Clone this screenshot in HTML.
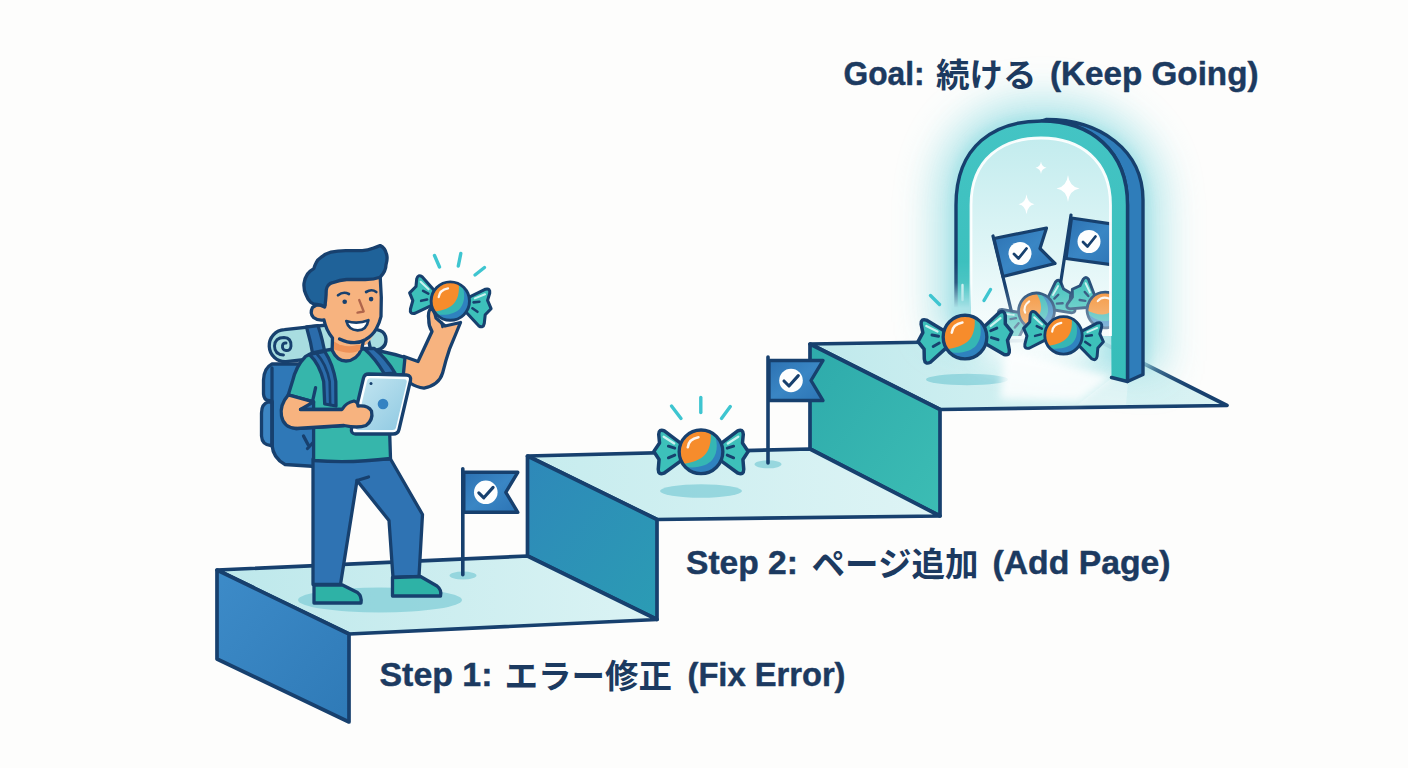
<!DOCTYPE html>
<html lang="ja"><head><meta charset="utf-8"><title>Steps to Goal</title>
<style>
html,body{margin:0;padding:0;background:#fdfdfc;}
body{width:1408px;height:768px;overflow:hidden;font-family:"Liberation Sans",sans-serif;}
svg{display:block;}
</style></head><body>
<svg width="1408" height="768" viewBox="0 0 1408 768">
<rect width="1408" height="768" fill="#fdfdfc"/>

<defs>
  <linearGradient id="gFace1" x1="0" y1="0" x2="1" y2="1"><stop offset="0" stop-color="#3d8bc8"/><stop offset="1" stop-color="#2f7ab7"/></linearGradient>
  <linearGradient id="gFace2" x1="0" y1="0" x2="1" y2="1"><stop offset="0" stop-color="#2e88b9"/><stop offset="1" stop-color="#2b9cb4"/></linearGradient>
  <linearGradient id="gFace3" x1="0" y1="0" x2="1" y2="1"><stop offset="0" stop-color="#2eaaab"/><stop offset="1" stop-color="#3cbdb4"/></linearGradient>
  <linearGradient id="gTop1" x1="0" y1="0" x2="1" y2="0"><stop offset="0" stop-color="#bde8eb"/><stop offset="1" stop-color="#dbf3f4"/></linearGradient>
  <linearGradient id="gTop2" x1="0" y1="0" x2="1" y2="0"><stop offset="0" stop-color="#c6ecee"/><stop offset="1" stop-color="#def4f5"/></linearGradient>
  <linearGradient id="gTop3" x1="0" y1="0" x2="1" y2="0"><stop offset="0" stop-color="#bfe9ec"/><stop offset="0.6" stop-color="#d4f1f2"/><stop offset="1" stop-color="#d9f2f3"/></linearGradient>
  <linearGradient id="gFlag" x1="0" y1="0" x2="1" y2="1"><stop offset="0" stop-color="#2c71b2"/><stop offset="0.5" stop-color="#3a86c4"/><stop offset="1" stop-color="#2c74b5"/></linearGradient>
  <linearGradient id="gArchIn" x1="0" y1="0" x2="0" y2="1"><stop offset="0" stop-color="#c3ecee"/><stop offset="0.55" stop-color="#def5f6"/><stop offset="1" stop-color="#f8fdfd"/></linearGradient>
  <linearGradient id="gArchFront" x1="0" y1="0" x2="0" y2="1"><stop offset="0" stop-color="#44c4c4"/><stop offset="1" stop-color="#36bdb9"/></linearGradient>
  <linearGradient id="gTablet" x1="0" y1="0" x2="1" y2="1"><stop offset="0" stop-color="#c4e6f1"/><stop offset="1" stop-color="#8fc9e2"/></linearGradient>
  <radialGradient id="gGlow" cx="0.5" cy="0.5" r="0.5"><stop offset="0" stop-color="#aee5e8" stop-opacity="0.95"/><stop offset="0.6" stop-color="#bdeaec" stop-opacity="0.75"/><stop offset="1" stop-color="#d8f3f4" stop-opacity="0"/></radialGradient>
  <linearGradient id="gLeftCol" x1="0" y1="0" x2="0" y2="1"><stop offset="0" stop-color="#000" stop-opacity="0"/><stop offset="0.45" stop-color="#000" stop-opacity="0.15"/><stop offset="1" stop-color="#000" stop-opacity="1"/></linearGradient>
  <mask id="mLeftFade" maskUnits="userSpaceOnUse" x="900" y="100" width="300" height="300"><rect x="900" y="100" width="300" height="300" fill="#fff"/><rect x="940" y="262" width="60" height="46" fill="url(#gLeftCol)"/><rect x="940" y="307.500" width="60" height="100" fill="#000"/></mask>
  <filter id="blur12" x="-30%" y="-30%" width="160%" height="160%"><feGaussianBlur stdDeviation="14"/></filter>
  <filter id="blur20" x="-40%" y="-40%" width="180%" height="180%"><feGaussianBlur stdDeviation="20"/></filter>
  <filter id="blur4" x="-30%" y="-30%" width="160%" height="160%"><feGaussianBlur stdDeviation="4"/></filter>
  <filter id="blur1" x="-30%" y="-30%" width="160%" height="160%"><feGaussianBlur stdDeviation="0.7"/></filter>
  <clipPath id="cBall"><circle cx="0" cy="0" r="19.5"/></clipPath>
  <clipPath id="cArchIn"><path d="M971 336 L971 205 C971 158 1003 138 1041 138 C1080 138 1110.500 160 1110.500 205 L1110.500 336 Z"/></clipPath>
  <linearGradient id="gHaze" x1="0" y1="0" x2="0" y2="1"><stop offset="0" stop-color="#f4fbfb" stop-opacity="0"/><stop offset="1" stop-color="#f4fbfb" stop-opacity="0.55"/></linearGradient>

  <g id="wrapR">
    <path d="M17 -7 L31.500 -18 Q36 -20 36.300 -15 L35.600 -7.600 L40.500 -0.300 L36 6.600 L36.700 15 Q36.700 20.200 31.800 18.400 L17 7.500 Z" fill="#3dc0ba" stroke="#17406e" stroke-width="3" stroke-linejoin="round"/>
    <path d="M23 -7.2 L32 -13" stroke="#c9f2f0" stroke-width="2" stroke-linecap="round" fill="none"/>
    <path d="M22.500 -3.100 L28 -4.800 M22.500 2.800 L28 5.200" stroke="#17406e" stroke-width="2.500" stroke-linecap="round" fill="none"/>
  </g>
  <g id="wraps"><use href="#wrapR" transform="scale(1.04)"/><use href="#wrapR" transform="scale(-1.04,1.04)"/></g>
  <g id="ball">
    <g clip-path="url(#cBall)">
      <circle r="20" fill="#f68c2c"/>
      <path d="M8.400 -20 C9.500 -10 8.500 0 0.200 5.500 C-5 9 -12 10.500 -19 11 L-19 22 L22 22 L22 -22 Z" fill="#35b6b4"/>
      <path d="M11.700 -17 C15.200 -8 15 1 10.100 7.200 C6 12.300 -3 15.200 -15 13.400 L-15 22 L22 22 L22 -22 Z" fill="#2f82bf"/>
    </g>
    <circle r="19.500" fill="none" stroke="#17406e" stroke-width="3"/>
    <path d="M-11.800 -4 Q-11 -11.500 -2.300 -13" stroke="#fff" stroke-width="2.300" stroke-linecap="round" fill="none" opacity="0.92"/>
  </g>
  <g id="candy"><use href="#wraps"/><use href="#ball"/></g>

  <g id="flag">
    <path d="M0 -3 L0 103" stroke="#17406e" stroke-width="3.6" stroke-linecap="round"/>
    <path d="M1 0.5 L55 0.5 L43 20.5 L55 40.5 L1 40.5 Z" fill="url(#gFlag)" stroke="#17406e" stroke-width="3.4" stroke-linejoin="round"/>
    <circle cx="23" cy="20.500" r="11.800" fill="#fdfefe"/>
    <path d="M16 21 L21 26 L30.3 15.6" stroke="#17406e" stroke-width="3.1" fill="none" stroke-linecap="round" stroke-linejoin="round"/>
  </g>
  <path id="star" d="M0 -10 Q1.2 -1.2 10 0 Q1.2 1.2 0 10 Q-1.2 1.2 -10 0 Q-1.2 -1.2 0 -10 Z"/>
</defs>


<g stroke="#17406e" stroke-width="3.7" stroke-linejoin="round" stroke-linecap="round">
  <path d="M810 344 L1096 339.5 L1227 405.5 L940 409.5 Z" fill="url(#gTop3)"/>
  <path d="M810 344 L940 409.5 L940 516 L810 449 Z" fill="url(#gFace3)"/>
  <path d="M527.5 456 L810 449 L940 516 L657 519.5 Z" fill="url(#gTop2)"/>
  <path d="M527.5 456 L657 519.5 L657 619.5 L527.5 556 Z" fill="url(#gFace2)"/>
  <path d="M217 570 L527.5 556 L657 619.5 L349 634 Z" fill="url(#gTop1)"/>
  <path d="M217 570 L349 634 L349 722 L217 659 Z" fill="url(#gFace1)"/>
</g>


<g fill="#86d0d9" opacity="0.78">
  <ellipse cx="380" cy="600" rx="82" ry="12.5"/>
  <ellipse cx="463" cy="575.5" rx="13.5" ry="4"/>
  <ellipse cx="701" cy="491" rx="41" ry="6.8"/>
  <ellipse cx="768" cy="464.3" rx="13.5" ry="4"/>
  <ellipse cx="967" cy="379.5" rx="41" ry="5.8"/>
</g>


<!-- glow -->
<path d="M936 335 L936 205 C936 130 985 100 1042 100 C1105 100 1162 135 1162 205 L1162 375 Z" fill="#a2e1e6" opacity="0.9" filter="url(#blur20)"/>
<path d="M950 320 L950 205 C950 140 990 115 1042 115 C1100 115 1150 145 1150 205 L1150 370 Z" fill="#a2e1e6" opacity="0.6" filter="url(#blur4)"/>
<ellipse cx="1040" cy="345" rx="62" ry="26" fill="#ffffff" opacity="0.9" filter="url(#blur12)"/>
<!-- floor light spill -->
<path d="M1005 348 L1112 377 L1079 401 L1000 399 Z" fill="#ffffff" opacity="0.85" filter="url(#blur4)"/>
<path d="M1112 378 L1128 382 L1126 404.500 L1078 404.500 Z" fill="#ffffff" opacity="0.3" filter="url(#blur1)"/>
<!-- interior -->
<path d="M971 336 L971 205 C971 158 1003 138 1041 138 C1080 138 1110.500 160 1110.500 205 L1110.500 336 L1110.500 336 L971 336 Z" fill="url(#gArchIn)"/>
<g clip-path="url(#cArchIn)">
  <g fill="#ffffff">
    <use href="#star" transform="translate(1041 167.700) scale(0.55 0.62)"/>
    <use href="#star" transform="translate(1068 188.500) scale(1.15 1.35)"/>
    <use href="#star" transform="translate(1026.500 204.200) scale(0.8 1)"/>
  </g>
  <!-- inner flags -->
  <g>
    <path d="M993 236 L1012 314" stroke="#17406e" stroke-width="3.200" stroke-linecap="round"/>
    <path d="M994 238.500 L1046.500 228 L1040 248.500 L1055 263.500 L1003 276.500 Z" fill="url(#gFlag)" stroke="#17406e" stroke-width="3.200" stroke-linejoin="round"/>
    <circle cx="1020" cy="253.500" r="11.500" fill="#fdfefe"/>
    <path d="M1014 254 L1018.500 258.500 L1026.500 248.500" stroke="#17406e" stroke-width="2.800" fill="none" stroke-linecap="round" stroke-linejoin="round"/>
    <path d="M1071 215 L1060 287" stroke="#17406e" stroke-width="3.200" stroke-linecap="round"/>
    <path d="M1071.500 218 L1118 225 L1118 265.500 L1066 258.500 Z" fill="url(#gFlag)" stroke="#17406e" stroke-width="3.200" stroke-linejoin="round"/>
    <circle cx="1089" cy="241.500" r="11.500" fill="#fdfefe"/>
    <path d="M1083 242 L1087.500 246.500 L1095.500 236.500" stroke="#17406e" stroke-width="2.800" fill="none" stroke-linecap="round" stroke-linejoin="round"/>
  </g>
  <!-- back candies -->
  <g opacity="0.92">
    <use href="#candy" transform="translate(1036.500 311) rotate(-27) scale(0.92)"/>
    <use href="#candy" transform="translate(1105 310) rotate(32) scale(0.92)"/>
  </g>
  <rect x="969" y="285" width="143" height="60" fill="url(#gHaze)"/>
</g>
<!-- arch side (blue) -->
<path d="M1127.500 381.500 L1127.500 205 C1127.500 150 1090 121 1041.500 121 L1046 119.500 C1100 119.500 1143 150 1143 200 L1143 374.500 Z" fill="#2f7dba" stroke="#17406e" stroke-width="3.400" stroke-linejoin="round"/>
<!-- arch front (teal) -->
<g mask="url(#mLeftFade)">
  <path d="M956 330 L956 205 C956 145 995 121 1041.500 121 C1090 121 1127.500 150 1127.500 205 L1127.500 381.500 L1111.500 377.500 L1110.500 205 C1110.500 160 1080 138 1041 138 C1003 138 971 158 971 205 L971 330 Z" fill="url(#gArchFront)"/>
  <path d="M971 336 L971 205 C971 158 1003 138 1041 138 C1080 138 1110.500 160 1110.500 205 L1110.500 336" fill="none" stroke="#ffffff" stroke-width="2.800" opacity="0.95"/>
  <path d="M956 330 L956 205 C956 145 995 121 1041.500 121 C1090 121 1127.500 150 1127.500 205 L1127.500 381.500 L1111.500 377.500" fill="none" stroke="#17406e" stroke-width="3.400" stroke-linejoin="round" stroke-linecap="round"/>
  <path d="M962.500 300 L962.500 285" stroke="#fff" stroke-width="2.400" stroke-linecap="round" opacity="0.8"/>
</g>


<g stroke="#17406e" stroke-width="3.300" stroke-linejoin="round" stroke-linecap="round">
  <!-- roll right end (behind neck) -->
  <path d="M366 330 Q385 327 386 339 Q386.500 350 371 351 Z" fill="#a8dde0"/>
  <!-- backpack body -->
  <path d="M272 364 Q264 368 263.500 380 L263.500 394 Q264 399.500 268 400.500 L272 401 L272 445 Q273 458 285 464.500 L316 466.500 L318 364 Z" fill="#2f78b7"/>
  <path d="M272 402 L268 402 Q261.500 404 261.500 413 L261.500 436 Q262 445 271 445.500 L272 445.500 Z" fill="#3c86c4"/>
  <path d="M272 368 L272 446" fill="none"/>
  <path d="M307.500 448.500 L321 434 M303.500 436 L308 444.500" fill="none"/>
  <!-- roll -->
  <path d="M284.500 329.700 A16 16 0 0 0 286 361.700 L336 356 L336 324 Z" fill="#a8dde0"/>
  <path d="M306.500 327 Q311 342 313.500 358.500 L325.500 357 Q323 340 318 325.700 Z" fill="#2b6cab"/>
  <path d="M283.500 355 Q274.500 354.500 274.500 346 Q275 337.500 284 337.500 Q291.500 338 291 346 Q290.500 351 286 350.500 Q282 350 282.500 345.500 Q283 342.500 286 343" fill="none" stroke-width="2.900"/>
  <!-- raised arm -->
  <path d="M404 356.500 L418 361.500 L432 331.500 Q428.500 326 428.800 320 Q427.500 311 431 308.500 Q435 311 436 318 L445 326 L460.500 322.500 Q455 336 449.800 348.300 Q445.500 361 442.500 373.300 Q439 385 424 388.200 Q416 387 411 383.500 L402 375 Z" fill="#f7b37f"/>
  <path d="M441.500 322.500 L442.500 327" fill="none" stroke-width="2.600"/>
  <!-- pants -->
  <path d="M313 459 L313 584.500 L340.500 584.500 L357 480.500 L389 520.500 L393 577.500 L419 576.500 L422.500 514.500 L390.500 459 Z" fill="#2f73b3"/>
  <path d="M357 480.500 L368.500 477" fill="none"/>
  <!-- shoes -->
  <path d="M314 585 L342.500 585 L357.500 592.500 Q362 596 361 603 L314 603 Z" fill="#2eb2a6"/>
  <path d="M392.500 577.500 L420.500 576.500 L437 586 Q442 590 440.500 596 L392.500 596 Z" fill="#2eb2a6"/>
  <!-- shirt -->
  <path d="M330.700 349.500 Q312 352 305.500 356.500 Q296 366 292.400 381.600 L288.300 394.800 L313.600 401.800 L313.600 460.500 Q350 463.500 390.500 458.500 L388 380 L403.400 374 L405 357.500 Q385 351 362 348.500 Z" fill="#36b6ab"/>
  <path d="M315.600 387.700 L312.500 401.500" fill="none"/>
  <!-- neck -->
  <path d="M332.500 334 L332 350 Q337 361 346 361 Q357 360.500 361.500 349 L363 336 Z" fill="#f7b37f" stroke="none"/>
  <path d="M332 350 Q337 361 346 361 Q357 360.500 361.500 349" fill="none"/>
  <path d="M334 341.500 Q348 350.500 362.500 342.500 L362 349 Q352 356 334 349.500 Z" fill="#ee9258" stroke="none"/>
  <!-- straps -->
  <path d="M309.500 354.500 Q319.500 364 323.700 381.600 L324.700 404 L336 406 L335.800 381.600 Q333 364 324.700 351.300 Z" fill="#2b6cab"/>
  <path d="M316.500 353.500 Q326.500 364 329.700 381.600 L330.200 405" fill="none" stroke-width="2.600"/>
  <path d="M364 348.500 Q375 358 384.500 374 L395 373 Q386 358 374 348.300 Z" fill="#2b6cab"/>
  <!-- left arm -->
  <path d="M288.300 394.800 Q279.500 405 281.500 416 Q283.500 427.500 296 428.500 L344 425.500 L344 409.500 L300.500 409.500 L313.600 401.800 Z" fill="#f7b37f"/>
  <!-- tablet -->
  <path d="M368.500 374 L406.500 375 Q411.500 375.500 410.500 380.500 L399 429.500 Q398 434 393 434 L355.500 434 Q350.500 433.500 351.500 428.500 L363.500 378 Q364.500 374 368.500 374 Z" fill="#fbfeff"/>
  <path d="M370.500 378.300 L404.500 379.200 Q407.300 379.500 406.700 382.500 L396 427.500 Q395.500 430 392.500 430 L358.500 430 Q355.500 430 356.200 427 L367 381 Q367.700 378.300 370.500 378.300 Z" fill="url(#gTablet)" stroke="none"/>
  <circle cx="383" cy="404" r="5.300" fill="#3583c2" stroke="none"/>
  <circle cx="371" cy="383.500" r="1.500" fill="#17406e" stroke="none"/>
  <!-- hand on tablet -->
  <path d="M300.500 409.500 L342 409.500 Q346 402.500 354 401 Q358 402 358 406 Q368 405 371.500 411 Q373.500 420 366 425.500 Q358 428.500 344 425.500 L296 428.500" fill="#f7b37f"/>
  <!-- face + ear -->
  <path d="M325 305 Q317 303.500 312.500 307.500 Q309.500 313 313.500 317.500 Q318 321 324 320 Q326 330 332.500 338 L340 345 L366 345 Q376.500 334 381 316.500 L381.300 297.500 L380.200 277 L330 279 Z" fill="#f7b37f" stroke="none"/>
  <path d="M325 305 Q317 303.500 312.500 307.500 Q309.500 313 313.500 317.500 Q318 321 324 320 Q326 330 332.500 338 L332.200 349" fill="none"/>
  <path d="M380.200 277 L381.300 297.500 L381 316.500 Q379.500 323 376.300 328.700 Q373 335 365.300 339.700 Q354.400 346 339.500 338.900" fill="none"/>
  <path d="M363.300 341.500 L361.800 349" fill="none"/>
  <!-- hair -->
  <path d="M324.700 307 Q326 300 326.300 289.700 Q327.500 284 332.500 282.700 Q340 280 346.600 279.500 L365.300 279.500 Q374 279.500 380.200 277.200 Q386 271 386 264.700 Q388 258 386.400 253.800 Q385 248 380.200 245.600 Q377 247 373 248.300 Q368 250.600 362.200 250.600 L346.600 250.600 Q338 250.500 331 252.200 Q325 254 321.600 256.900 Q317.500 259.500 316 263 Q314.500 266 313.800 268.600 Q309.500 271 307.500 274 Q304.500 278.500 304 283.400 Q303.500 289.500 305.900 294.400 Q307.500 299 310.600 302.200 Q313.500 304.500 316.900 304.500 Q321 304.800 324.700 307 Z" fill="#1f6299"/>
</g>
<!-- face details -->
<g fill="none" stroke="#17406e" stroke-width="2.700" stroke-linecap="round" stroke-linejoin="round">
  <path d="M338 295.200 Q343.400 291 348.900 294"/>
  <path d="M366.100 292 Q371.600 288.500 376.300 292"/>
  <path d="M359.200 300 L363.700 311.500 L357.500 312.700" stroke="#b0654b" stroke-width="2.300"/>
  <path d="M346.300 321 Q357.500 324.500 368.400 320.200 Q366.500 330.500 357.500 330.300 Q348.500 330 346.300 321 Z" fill="#fff"/>
</g>
<circle cx="344.700" cy="301.700" r="2.300" fill="#17406e"/>
<circle cx="371.100" cy="299.100" r="2.300" fill="#17406e"/>


<use href="#flag" transform="translate(462.800 471.800)"/>
<use href="#flag" transform="translate(768 360)"/>
<g transform="translate(450.300 301.100) scale(0.985)"><use href="#wraps" transform="rotate(11)"/><use href="#ball"/></g>
<use href="#candy" transform="translate(701 451.800) scale(1.12)"/>
<g transform="translate(965 337.100) scale(1.12)"><use href="#wraps" transform="rotate(-6)"/><use href="#ball"/></g>
<g transform="translate(1063.500 335.400) scale(0.96)"><use href="#wraps" transform="rotate(9.600)"/><use href="#ball"/></g>


<g stroke="#3ec5d0" stroke-width="3.400" stroke-linecap="round" fill="none">
  <path d="M434.500 255.500 L439.500 267"/><path d="M460.800 253.500 L458.300 266"/><path d="M484.500 267.500 L475 275"/>
  <path d="M671.500 406 L681 418.500"/><path d="M700.800 397.500 L700.800 412.500"/><path d="M730.300 406.500 L721.500 418.500"/>
  <path d="M930.500 295.500 L939.500 304.500"/><path d="M990.500 289.500 L984 300.500"/>
</g>


<g font-family="'Liberation Sans', sans-serif" font-weight="bold" font-size="33.500px" fill="#1c3a60" stroke="#1c3a60" stroke-width="0.450" stroke-linejoin="round">
  <text x="843.500" y="84.700" textLength="81" lengthAdjust="spacingAndGlyphs">Goal:</text>
  <text x="936" y="86.700" font-family="'Liberation Sans', 'Noto Sans CJK JP', sans-serif" stroke="none" textLength="100.500" lengthAdjust="spacingAndGlyphs">続ける</text>
  <text x="1050" y="84.700" textLength="208.500" lengthAdjust="spacingAndGlyphs">(Keep Going)</text>

  <text x="686" y="573.700" textLength="112" lengthAdjust="spacingAndGlyphs">Step 2:</text>
  <text x="811.500" y="575.500" font-family="'Liberation Sans', 'Noto Sans CJK JP', sans-serif" stroke="none" textLength="167" lengthAdjust="spacingAndGlyphs">ページ追加</text>
  <text x="992.500" y="573.700" textLength="178" lengthAdjust="spacingAndGlyphs">(Add Page)</text>

  <text x="379.500" y="686.400" textLength="113" lengthAdjust="spacingAndGlyphs">Step 1:</text>
  <text x="504.500" y="688.200" font-family="'Liberation Sans', 'Noto Sans CJK JP', sans-serif" stroke="none" textLength="167.500" lengthAdjust="spacingAndGlyphs">エラー修正</text>
  <text x="687.500" y="686.400" textLength="158" lengthAdjust="spacingAndGlyphs">(Fix Error)</text>
</g>

</svg>
</body></html>
